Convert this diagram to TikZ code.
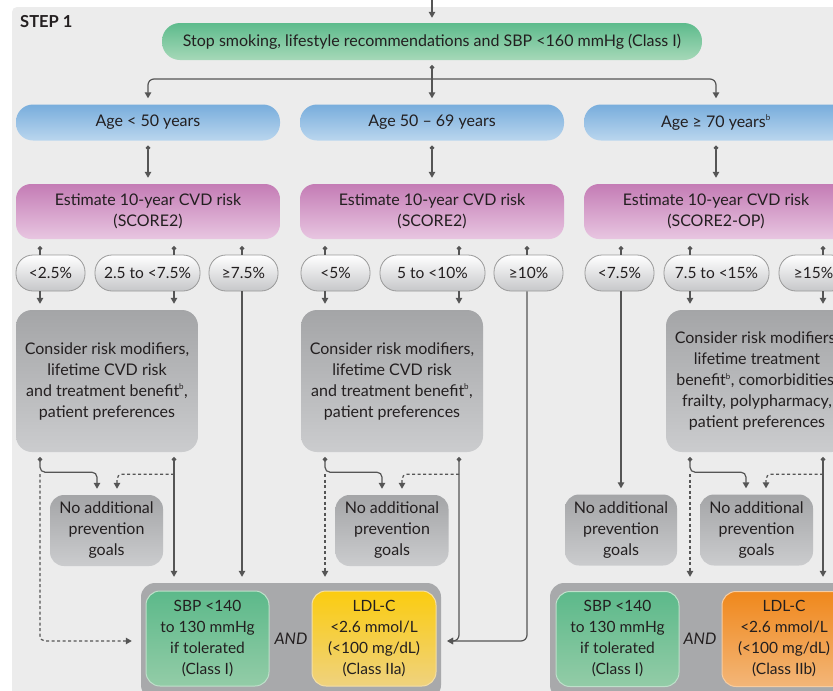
\documentclass[tikz,border=0pt]{standalone}
\usepackage{fontspec}
\setmainfont{Lato}
\usetikzlibrary{arrows.meta}

\definecolor{panel}{HTML}{ECECEC}
\definecolor{ink}{HTML}{231F20}
\definecolor{linegray}{HTML}{555555}
\definecolor{greenA}{HTML}{5DBB8C}
\definecolor{greenB}{HTML}{A6D8B8}
\definecolor{blueA}{HTML}{78ADDC}
\definecolor{blueB}{HTML}{BAD6EE}
\definecolor{pinkA}{HTML}{C47CB5}
\definecolor{pinkB}{HTML}{E8C6E1}
\definecolor{greyA}{HTML}{A4A5A7}
\definecolor{greyB}{HTML}{CBCCCE}
\definecolor{pillB}{HTML}{C6C7C9}
\definecolor{goalgray}{HTML}{A8A9AB}
\definecolor{sbpA}{HTML}{5CB98A}
\definecolor{sbpB}{HTML}{93CCA7}
\definecolor{yelA}{HTML}{FBCC10}
\definecolor{yelB}{HTML}{EFD27E}
\definecolor{oraA}{HTML}{F0881C}
\definecolor{oraB}{HTML}{F3B678}

\begin{document}
\begin{tikzpicture}[x=1pt,y=1pt,yscale=-1,
    every node/.style={text=ink, font=\fontsize{16}{21}\selectfont, align=center, inner sep=0pt},
    greenbox/.style={rounded corners=18, top color=greenA, bottom color=greenB, minimum width=540, minimum height=37},
    agebox/.style={rounded corners=17, top color=blueA, bottom color=blueB, minimum width=264, minimum height=36},
    riskbox/.style={rounded corners=15, top color=pinkA, bottom color=pinkB, minimum width=264, minimum height=55},
    pill/.style={rounded corners=17, top color=white, bottom color=pillB, draw=gray!80, line width=0.8pt, minimum height=36, font=\fontsize{15.5}{21}\selectfont},
    modbox/.style={rounded corners=16, top color=greyA, bottom color=greyB, minimum width=182, minimum height=142},
    nonebox/.style={rounded corners=14, top color=greyA, bottom color=greyB, minimum width=113, minimum height=71},
    goalbox/.style={rounded corners=14, fill=goalgray, minimum height=116},
    sbpbox/.style={rounded corners=14, top color=sbpA, bottom color=sbpB, draw=sbpB!60!white, line width=1pt, minimum width=123, minimum height=95, font=\fontsize{15.5}{21}\selectfont},
    ldlbox/.style={rounded corners=14, line width=1pt, minimum width=124, minimum height=95, font=\fontsize{15.5}{21}\selectfont},
    andlabel/.style={font=\fontsize{16}{16}\selectfont\itshape},
    wire/.style={draw=linegray, line width=1.2pt},
    arr/.style={wire, -{Triangle[length=6pt,width=6.5pt]}, shorten >=6pt},
    link/.style={wire, {Circle[length=4.5pt]}-{Triangle[length=6pt,width=6.5pt]}, shorten <=5pt, shorten >=6pt},
    stub/.style={wire, {Circle[length=4.5pt]}-, shorten <=7pt},
    dotarr/.style={arr, dash pattern=on 3pt off 2.5pt}
]
    \useasboundingbox (0,0) rectangle (833,691);
    \clip (0,0) rectangle (833,691);

    % panel
    \fill[panel, rounded corners=5] (12,7) rectangle (900,720);
    \node[anchor=west, font=\bfseries\fontsize{16.5}{16.5}\selectfont] (step) at (20,22) {STEP 1};

    % top row
    \node[greenbox] (stop) at (432,41.5) {Stop smoking, lifestyle recommendations and SBP <160 mmHg (Class I)};
    \coordinate (feed) at (432,0);
    \coordinate (split) at (432,79);

    % age groups
    \node[agebox] (ageL) at (148,122.5) {Age < 50 years};
    \node[agebox] (ageM) at (432,122.5) {Age 50 -- 69 years};
    \node[agebox] (ageR) at (716,122.5) {Age ≥ 70 years\textsuperscript{\fontsize{8}{8}\selectfont b}};

    % risk estimation
    \node[riskbox] (riskL) at (148,211.5) {Estimate 10-year CVD risk\\(SCORE2)};
    \node[riskbox] (riskM) at (432,211.5) {Estimate 10-year CVD risk\\(SCORE2)};
    \node[riskbox] (riskR) at (716,211.5) {Estimate 10-year CVD risk\\(SCORE2-OP)};

    % risk categories
    \node[pill, minimum width=69] (lowL) at (50.5,273) {<2.5\%};
    \node[pill, minimum width=105] (midL) at (147.5,273) {2.5 to <7.5\%};
    \node[pill, minimum width=69] (highL) at (243.5,273) {≥7.5\%};
    \node[pill, minimum width=69] (lowM) at (335.5,273) {<5\%};
    \node[pill, minimum width=105] (midM) at (432.5,273) {5 to <10\%};
    \node[pill, minimum width=69] (highM) at (528.5,273) {≥10\%};
    \node[pill, minimum width=69] (lowR) at (619.5,273) {<7.5\%};
    \node[pill, minimum width=105] (midR) at (716.5,273) {7.5 to <15\%};
    \node[pill, minimum width=69] (highR) at (813.5,273) {≥15\%};

    % modifiers
    \node[modbox] (modL) at (107,381) {Consider risk modifiers,\\lifetime CVD risk\\and treatment benefit\textsuperscript{\fontsize{8}{8}\selectfont b},\\patient preferences};
    \node[modbox] (modM) at (392,381) {Consider risk modifiers,\\lifetime CVD risk\\and treatment benefit\textsuperscript{\fontsize{8}{8}\selectfont b},\\patient preferences};
    \node[modbox] (modR) at (757,381) {Consider risk modifiers,\\lifetime treatment\\benefit\textsuperscript{\fontsize{8}{8}\selectfont b}, comorbidities,\\frailty, polypharmacy,\\patient preferences};

    % no additional goals
    \node[nonebox] (noneL) at (106.5,530.5) {No additional\\prevention\\goals};
    \node[nonebox] (noneM) at (392,530.5) {No additional\\prevention\\goals};
    \node[nonebox, minimum width=112] (noneLow) at (621,530) {No additional\\prevention\\goals};
    \node[nonebox] (noneR) at (756.5,530) {No additional\\prevention\\goals};

    % goals
    \node[goalbox, minimum width=300] (goalL) at (291,641) {};
    \node[goalbox, minimum width=350] (goalR) at (725,641) {};
    \node[sbpbox] (sbpL) at (207.5,638.5) {SBP <140\\to 130 mmHg\\if tolerated\\(Class I)};
    \node[andlabel] (andL) at (291,639) {AND};
    \node[ldlbox, top color=yelA, bottom color=yelB, draw=yelB!70!white] (ldlL) at (374,638.5) {LDL-C\\<2.6 mmol/L\\(<100 mg/dL)\\(Class IIa)};
    \node[sbpbox] (sbpR) at (617.5,639) {SBP <140\\to 130 mmHg\\if tolerated\\(Class I)};
    \node[andlabel] (andR) at (700,639) {AND};
    \node[ldlbox, top color=oraA, bottom color=oraB, draw=oraB!70!white] (ldlR) at (784,639) {LDL-C\\<2.6 mmol/L\\(<100 mg/dL)\\(Class IIb)};

    % connectors, top
    \draw[arr, shorten >=5pt] (feed) -- (stop.north);
    \draw[link] (stop.south) -- (ageM.north);
    \draw[arr, rounded corners=6] (split) -| (ageL.north);
    \draw[arr, rounded corners=6] (split) -| (ageR.north);
    \draw[link] (ageL.south) -- (riskL.north);
    \draw[link] (ageM.south) -- (riskM.north);
    \draw[link] (ageR.south) -- (riskR.north);

    % connectors, risk categories
    \draw[stub] (riskL.south -| 40,0) -- (lowL.north -| 40,0);
    \draw[stub] (riskL.south -| 174,0) -- (midL.north -| 174,0);
    \draw[stub] (riskL.south -| 242,0) -- (highL.north -| 242,0);
    \draw[stub] (riskM.south -| 325,0) -- (lowM.north -| 325,0);
    \draw[stub] (riskM.south -| 459,0) -- (midM.north -| 459,0);
    \draw[stub] (riskM.south -| 527,0) -- (highM.north -| 527,0);
    \draw[stub] (riskR.south -| 621,0) -- (lowR.north -| 621,0);
    \draw[stub] (riskR.south -| 690,0) -- (midR.north -| 690,0);
    \draw[stub] (riskR.south -| 823,0) -- (highR.north -| 823,0);

    \draw[arr] (lowL.south -| 40,0) -- (modL.north -| 40,0);
    \draw[arr] (midL.south -| 174,0) -- (modL.north -| 174,0);
    \draw[arr] (highL.south -| 242,0) -- (goalL.north -| 242,0);
    \draw[arr] (lowM.south -| 325,0) -- (modM.north -| 325,0);
    \draw[arr] (midM.south -| 459,0) -- (modM.north -| 459,0);
    \draw[arr, rounded corners=6] (highM.south -| 527,0) |- (goalL.east);
    \draw[arr] (lowR.south -| 621,0) -- (noneLow.north);
    \draw[arr] (midR.south -| 690,0) -- (modR.north -| 690,0);
    \draw[arr] (highR.south -| 823,0) -- (modR.north -| 823,0);

    % connectors, left column
    \draw[dotarr, rounded corners=5, shorten >=9pt] (modL.south -| 40,0) ++(0,22) |- (goalL.west);
    \draw[dotarr, rounded corners=5] (modL.south -| 174,0) ++(0,22) -| (noneL.north -| 117,0);
    \draw[link, rounded corners=5] (modL.south -| 40,0) -- ++(0,20) -| (noneL.north -| 97,0);
    \draw[link] (modL.south -| 174,0) -- (goalL.north -| 174,0);

    % connectors, middle column
    \draw[dotarr] (modM.south -| 325,0) ++(0,22) -- (goalL.north -| 325,0);
    \draw[dotarr, rounded corners=5] (modM.south -| 459,0) ++(0,22) -| (noneM.north -| 402,0);
    \draw[link, rounded corners=5] (modM.south -| 325,0) -- ++(0,20) -| (noneM.north -| 382,0);
    \draw[link, rounded corners=6] (modM.south -| 459,0) |- (goalL.east);

    % connectors, right column
    \draw[dotarr] (modR.south -| 690,0) ++(0,22) -- (goalR.north -| 690,0);
    \draw[dotarr, rounded corners=5] (modR.south -| 823,0) ++(0,22) -| (noneR.north -| 766,0);
    \draw[link, rounded corners=5] (modR.south -| 690,0) -- ++(0,20) -| (noneR.north -| 746,0);
    \draw[link] (modR.south -| 823,0) -- (goalR.north -| 823,0);
\end{tikzpicture}
\end{document}
